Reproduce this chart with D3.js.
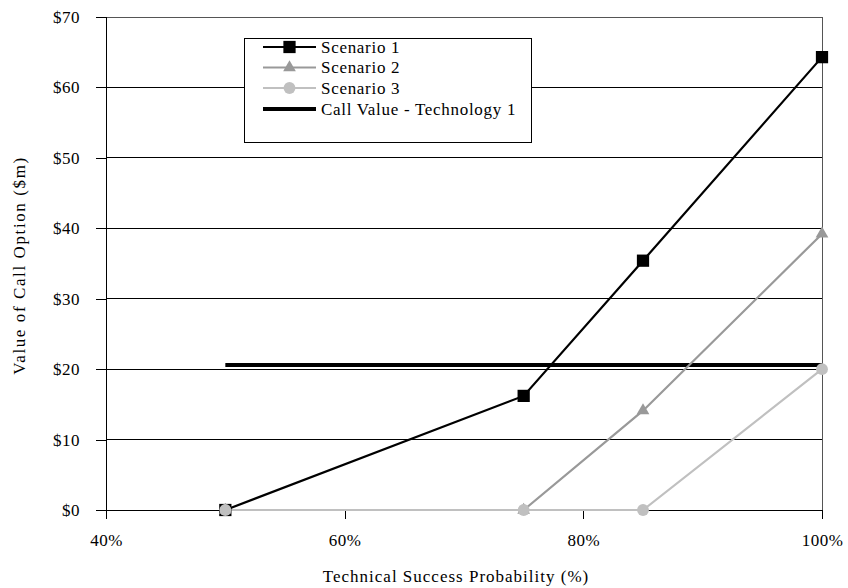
<!DOCTYPE html>
<html><head><meta charset="utf-8">
<script src="https://cdn.jsdelivr.net/npm/d3@7"></script>
<style>
html,body{margin:0;padding:0;background:#fff;}
text{font-family:"Liberation Serif","DejaVu Serif",serif;fill:#000;}
</style></head>
<body><svg id="c" width="848" height="588"></svg>
<script>
const probabilities = [0.50, 0.75, 0.85, 1.00];
const scenario1 = [0, 16.2, 35.4, 64.3];
const scenario2 = [0, 0, 14.1, 39.2];
const scenario3 = [0, 0, 0, 20.0];
const callValueX = [0.50, 1.00];
const callValue = [20.6, 20.6];
const xTicks = [0.4, 0.6, 0.8, 1.0];
const yTicks = [0, 10, 20, 30, 40, 50, 60, 70];
const seriesNames = ["Scenario 1", "Scenario 2", "Scenario 3", "Call Value - Technology 1"];

const svg = d3.select("#c");
const L = 106, R = 822, T = 17, B = 510;
const FS = "17px";
const x = d3.scaleLinear().domain([0.4, 1.0]).range([L, R]);
const y = d3.scaleLinear().domain([0, 70]).range([B, T]);

// gridlines
svg.append("g").selectAll("line").data(yTicks.filter(d => d > 0 && d < 70)).join("line")
  .attr("x1", L).attr("x2", R).attr("y1", d => y(d)).attr("y2", d => y(d))
  .attr("stroke", "#000").attr("stroke-width", 1).attr("shape-rendering", "crispEdges");
// top & right border
svg.append("path").attr("d", `M${L},${T}H${R}V${B}`).attr("fill", "none")
  .attr("stroke", "#555").attr("stroke-width", 1).attr("shape-rendering", "crispEdges");

// axes
const yAxis = d3.axisLeft(y).tickValues(yTicks).tickSize(10).tickPadding(16)
  .tickFormat(d => "$" + d);
const gy = svg.append("g").attr("transform", `translate(${L},0)`).call(yAxis);
gy.select(".domain").attr("stroke", "#000").attr("shape-rendering", "crispEdges");
gy.selectAll(".tick line").attr("stroke", "#000").attr("shape-rendering", "crispEdges");
gy.selectAll("text").style("font-family", '"Liberation Serif",serif').style("font-size", FS)
  .style("letter-spacing", "0.5px").attr("fill", "#000");

const xAxis = d3.axisBottom(x).tickValues(xTicks).tickSize(9).tickPadding(15)
  .tickFormat(d => Math.round(d * 100) + "%");
const gx = svg.append("g").attr("transform", `translate(0,${B})`).call(xAxis);
gx.select(".domain").attr("stroke", "#000").attr("shape-rendering", "crispEdges");
gx.selectAll(".tick line").attr("stroke", "#000").attr("shape-rendering", "crispEdges");
gx.selectAll("text").style("font-family", '"Liberation Serif",serif').style("font-size", FS)
  .style("letter-spacing", "0.5px").attr("fill", "#000");
// $0 gridline across
svg.append("line").attr("x1", L - 10).attr("x2", R).attr("y1", y(0)).attr("y2", y(0))
  .attr("stroke", "#000").attr("shape-rendering", "crispEdges");

// axis titles
svg.append("text").attr("x", 456).attr("y", 582).attr("text-anchor", "middle")
  .style("font-size", FS).style("letter-spacing", "1px").text("Technical Success Probability (%)");
svg.append("text").attr("transform", `translate(25,${(T + B) / 2 + 2}) rotate(-90)`)
  .attr("text-anchor", "middle").style("font-size", FS).style("letter-spacing", "1.6px")
  .text("Value of Call Option ($m)");

const line = d3.line().x(d => x(d[0])).y(d => y(d[1]));

// call value line
svg.append("path").datum(callValueX.map((p, i) => [p, callValue[i]])).attr("d", line)
  .attr("fill", "none").attr("stroke", "#000").attr("stroke-width", 4);

const series = [
  {name: seriesNames[0], vals: scenario1, color: "#000", sym: d3.symbolSquare, size: 150},
  {name: seriesNames[1], vals: scenario2, color: "#999", sym: d3.symbolTriangle, size: 70},
  {name: seriesNames[2], vals: scenario3, color: "#c0c0c0", sym: d3.symbolCircle, size: 110},
];
series.forEach(s => {
  const pts = probabilities.map((p, i) => [p, s.vals[i]]);
  svg.append("path").datum(pts).attr("d", line).attr("fill", "none")
    .attr("stroke", s.color).attr("stroke-width", 2.2);
});
series.forEach(s => {
  const pts = probabilities.map((p, i) => [p, s.vals[i]]);
  svg.append("g").selectAll("path").data(pts).join("path")
    .attr("transform", d => `translate(${x(d[0])},${y(d[1])})`)
    .attr("d", d3.symbol().type(s.sym).size(s.size)).attr("fill", s.color);
});

// legend
const lg = svg.append("g");
lg.append("rect").attr("x", 244.5).attr("y", 38.5).attr("width", 287).attr("height", 104)
  .attr("fill", "#fff").attr("stroke", "#000").attr("stroke-width", 1);
const rowsY = [47, 67.5, 88, 109];
series.forEach((s, i) => {
  lg.append("line").attr("x1", 263).attr("x2", 316).attr("y1", rowsY[i]).attr("y2", rowsY[i])
    .attr("stroke", s.color).attr("stroke-width", 2.2);
  lg.append("path").attr("transform", `translate(289.5,${rowsY[i]})`)
    .attr("d", d3.symbol().type(s.sym).size(s.size)).attr("fill", s.color);
});
lg.append("line").attr("x1", 263).attr("x2", 316).attr("y1", rowsY[3]).attr("y2", rowsY[3])
  .attr("stroke", "#000").attr("stroke-width", 4);
seriesNames.forEach((n, i) => {
  lg.append("text").attr("x", 321).attr("y", rowsY[i]).attr("dy", "0.35em")
    .style("font-size", FS).style("letter-spacing", "0.7px").text(n);
});
</script></body></html>
